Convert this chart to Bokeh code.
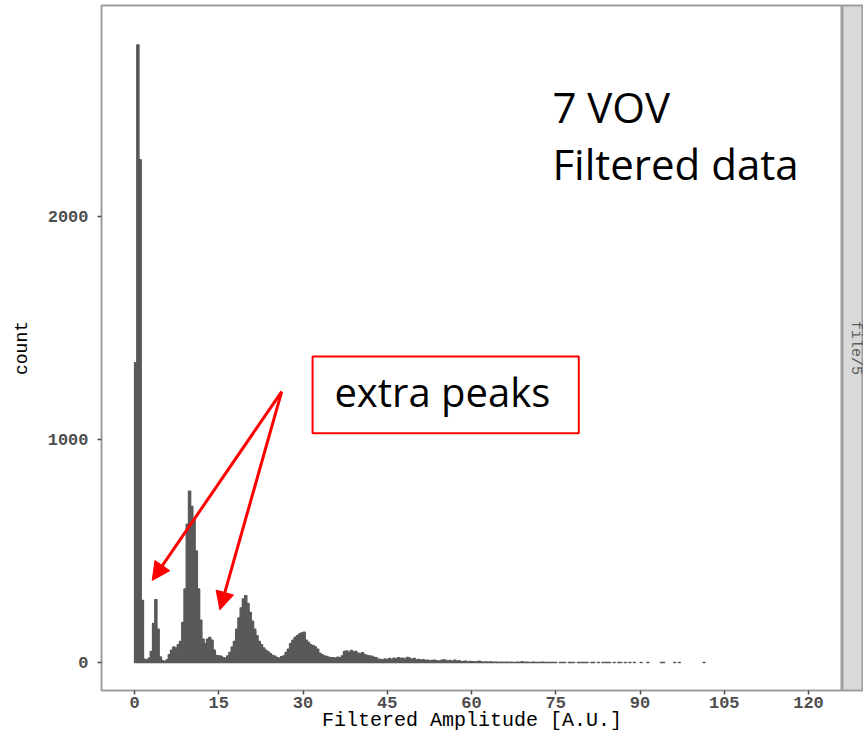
import math
from bokeh.plotting import figure
from bokeh.models import ColumnDataSource, Label, Arrow, NormalHead, BoxAnnotation, FixedTicker, Range1d
from bokeh.layouts import row
from bokeh.embed import file_html
from bokeh.resources import INLINE

# ---------------- data ----------------
BIN_START = 0.0
BIN_WIDTH = 0.4

# counts per 0.4-wide bin, bins 0..90 (main peaks region)
counts_peaks = [
    1345, 2770, 2255, 278,
    15, 10, 20, 50, 175, 282, 150, 25, 8, 5, 12, 35,
    55, 70, 65, 80, 95, 180, 330, 620, 768, 700, 640, 500, 330, 190, 105,
    85, 105, 112, 100, 55, 32, 30, 28, 22, 20, 30, 45, 70, 95, 150,
    200, 245, 285, 300, 265, 225, 185, 150, 120, 95, 80, 65, 55, 48, 40,
    32, 28, 22, 20, 26, 30, 45, 60, 85, 100, 112, 120, 128, 133, 136,
    100, 90, 80, 76, 70, 60, 42, 35, 30, 27, 24, 22, 22, 20, 24,
]
# counts per bin, bins 91..253 (tail)
counts_tail = [
    22, 30, 50, 52, 45, 54, 48, 50, 42, 40, 44, 35, 32, 30, 28,
    24, 22, 15, 14, 12, 16, 13, 18, 15, 19, 16, 22, 18, 20, 15,
    23, 20, 14, 18, 12, 14, 10, 13, 9, 11, 7, 9, 10, 8, 6,
    9, 12, 10, 6, 9, 5, 11, 6, 8, 4, 5, 6, 3, 5, 4,
    3, 4, 6, 3, 2, 3, 2, 3, 2, 2, 2, 1, 2, 1, 2,
    1, 2, 1, 1, 2, 1, 4, 1, 2, 1, 1, 2, 1, 1, 1, 2, 1, 1, 1, 1,
    1, 1, 0, 1, 1, 1, 0, 1, 1, 1, 0, 1, 1, 1, 1, 1, 0, 1, 1, 0, 1, 0, 1, 1, 1, 1, 0, 1, 0, 1, 1, 0, 1,
    0, 1, 0, 1, 0, 0, 1, 0, 0, 1, 0, 0, 0, 0, 0, 1, 1, 0, 0, 0, 0, 1, 0, 1, 0, 0, 0, 0, 0, 0, 0, 0, 0, 0, 1,
]

x_ticks = [0, 15, 30, 45, 60, 75, 90, 105, 120]
y_ticks = [0, 1000, 2000]

x_title = "Filtered Amplitude [A.U.]"
y_title = "count"
strip_text = "file/5"

note_lines = ["7 VOV", "Filtered data"]
note_x = 74.4
note_y = [2494, 2238]

callout_text = "extra peaks"
callout_text_pos = (54.8, 1215)
callout_box = (31.7, 79.1, 1028, 1372)  # left, right, bottom, top
arrow_start = (26.2, 1215)
arrow_ends = [(3.15, 368), (15.2, 236)]

# ---------------- layout constants ----------------
MONO = "Liberation Mono"
W_MAIN, W_STRIP, H = 842, 21, 736
TOP, BOTTOM, LEFT = 5, 46, 101
FRAME_BOTTOM_PX = H - BOTTOM
Y_PX0, Y_PX_PER = 662.0, 0.223   # pixel row of count 0, pixels per count
y_lo = (Y_PX0 - FRAME_BOTTOM_PX) / Y_PX_PER
y_hi = (Y_PX0 - TOP) / Y_PX_PER

# ---------------- build ----------------
counts = counts_peaks + counts_tail
lefts, rights, tops = [], [], []
for i, c in enumerate(counts):
    if c > 0:
        lefts.append(BIN_START + i * BIN_WIDTH)
        rights.append(BIN_START + (i + 1) * BIN_WIDTH)
        tops.append(c)
src = ColumnDataSource(dict(left=lefts, right=rights, top=tops, bottom=[0] * len(tops)))

p = figure(width=W_MAIN, height=H, output_backend="svg", toolbar_location=None,
           x_range=Range1d(-5.88, 126.05), y_range=Range1d(y_lo, y_hi),
           min_border_left=LEFT, min_border_right=0, min_border_top=TOP, min_border_bottom=BOTTOM)
p.background_fill_color = "white"
p.border_fill_color = "white"
p.outline_line_color = "#9e9e9e"
p.outline_line_width = 2
p.xgrid.visible = False
p.ygrid.visible = False

p.quad(left="left", right="right", top="top", bottom="bottom", source=src,
       fill_color="#595959", line_color="#595959", line_width=1.3)

for ax in (p.xaxis[0], p.yaxis[0]):
    ax.axis_line_color = None
    ax.major_tick_in = 0
    ax.major_tick_out = 4
    ax.major_tick_line_color = "#4d4d4d"
    ax.major_tick_line_width = 1.5
    ax.minor_tick_line_color = None
    ax.major_label_text_font = MONO
    ax.major_label_text_font_size = "17px"
    ax.major_label_text_font_style = "bold"
    ax.major_label_text_color = "#4d4d4d"

p.xaxis.ticker = FixedTicker(ticks=x_ticks)
p.yaxis.ticker = FixedTicker(ticks=y_ticks)
p.xaxis.major_label_standoff = 2
p.yaxis.major_label_standoff = 9

p.yaxis.axis_label = y_title
p.yaxis.axis_label_text_font = MONO
p.yaxis.axis_label_text_font_size = "18px"
p.yaxis.axis_label_text_font_style = "normal"
p.yaxis.axis_label_text_color = "black"
p.yaxis.axis_label_standoff = 13

p.xaxis.axis_label = x_title
p.xaxis.axis_label_text_font = MONO
p.xaxis.axis_label_text_font_size = "20px"
p.xaxis.axis_label_text_font_style = "normal"
p.xaxis.axis_label_text_color = "black"
p.xaxis.axis_label_standoff = -2

# annotations
for txt, yy in zip(note_lines, note_y):
    p.add_layout(Label(x=note_x, y=yy, text=txt, text_font="Open Sans", text_font_size="42px",
                       text_color="black", text_baseline="alphabetic", text_align="left"))

bl, br, bb, bt = callout_box
p.add_layout(BoxAnnotation(left=bl, right=br, bottom=bb, top=bt, fill_alpha=0,
                           line_color="#ff0000", line_alpha=1.0, line_width=2))
p.add_layout(Label(x=callout_text_pos[0], y=callout_text_pos[1], text=callout_text,
                   text_font="Open Sans", text_font_size="40px", text_color="black",
                   text_align="center", text_baseline="alphabetic"))
for ex, ey in arrow_ends:
    p.add_layout(Arrow(end=NormalHead(size=18, fill_color="#ff0000", line_color="#ff0000", line_width=1),
                       x_start=arrow_start[0], y_start=arrow_start[1], x_end=ex, y_end=ey,
                       line_color="#ff0000", line_width=3))

# facet strip on the right
strip = figure(width=W_STRIP, height=H, output_backend="svg", toolbar_location=None,
               x_range=Range1d(0, 1), y_range=Range1d(0, 1),
               min_border_left=0, min_border_right=0, min_border_top=TOP, min_border_bottom=BOTTOM)
strip.axis.visible = False
strip.grid.visible = False
strip.background_fill_color = "#d9d9d9"
strip.border_fill_color = "white"
strip.outline_line_color = "#9e9e9e"
strip.outline_line_width = 2
strip.add_layout(Label(x=0.6, y=0.5, text=strip_text, angle=-math.pi / 2, text_align="center",
                       text_baseline="middle", text_font=MONO, text_font_size="15px",
                       text_color="#5a5a5a"))

layout = row(p, strip)
open("out.html", "w").write(file_html(layout, INLINE))
